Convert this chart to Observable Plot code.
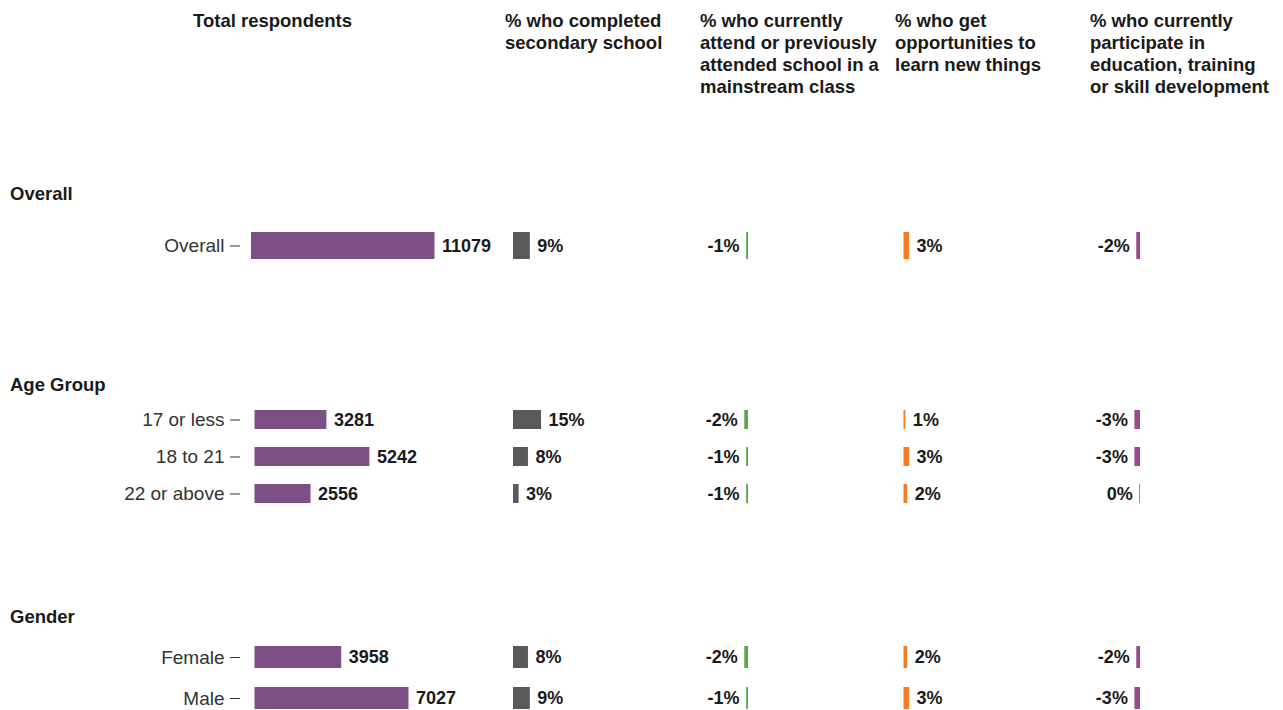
<!DOCTYPE html>
<html>
<head>
<meta charset="utf-8">
<script src="https://cdn.jsdelivr.net/npm/d3@7"></script>
<script src="https://cdn.jsdelivr.net/npm/@observablehq/plot@0.6"></script>
<style>
  html, body { margin: 0; padding: 0; background: #fff; }
  #root { position: relative; width: 1283px; height: 710px; overflow: hidden;
          font-family: "Liberation Sans", Arial, sans-serif; color: #1a1a1a; }
  .hdr { position: absolute; font-weight: bold; font-size: 18.5px; line-height: 22px; white-space: nowrap; }
  .grp { position: absolute; left: 10px; font-weight: bold; font-size: 18.5px; line-height: 22px; }
  .panel { position: absolute; }
  .panel svg { overflow: visible; }
</style>
</head>
<body>
<div id="root"></div>
<script>
// ---------------- data ----------------
const groups = ["Overall", "Age Group", "Gender"];
const categories = ["Overall", "17 or less", "18 to 21", "22 or above", "Female", "Male"];
const categoryGroup = ["Overall", "Age Group", "Age Group", "Age Group", "Gender", "Gender"];
const totalRespondents = [11079, 3281, 5242, 2556, 3958, 7027];
const completedSecondary = [9, 15, 8, 3, 8, 9];
const mainstreamClass = [-1, -2, -1, -1, -2, -1];
const learnNewThings = [3, 1, 3, 2, 2, 3];
const educationTraining = [-2, -3, -3, -0.4, -2, -3];
const columnTitles = [
  ["Total respondents"],
  ["% who completed", "secondary school"],
  ["% who currently", "attend or previously", "attended school in a", "mainstream class"],
  ["% who get", "opportunities to", "learn new things"],
  ["% who currently", "participate in", "education, training", "or skill development"]
];

// ---------------- layout ----------------
const font = "'Liberation Sans', Arial, sans-serif";
const headerX = [193, 505, 700, 895, 1090];
const headerTop = 10;
const groupLabelTop = {"Overall": 183, "Age Group": 374, "Gender": 606};
const groupLayout = {
  "Overall":   {top: 200, height: 80,  yRange: [31.5, 58.5],   padInner: 0,     countMax: 11079, countRange: [251, 434.5]},
  "Age Group": {top: 395, height: 120, yRange: [14.95, 109.25], padInner: 0.479, countMax: 7027,  countRange: [254.5, 408.5]},
  "Gender":    {top: 630, height: 80,  yRange: [15.5, 79],     padInner: 0.47,  countMax: 7027,  countRange: [254.5, 408.5]}
};
const pxPerPct = 1.87;
const pctColumns = [
  {values: completedSecondary, color: "#595959", zero: 513,   left: 500,  width: 195},
  {values: mainstreamClass,    color: "#5aa84e", zero: 748,   left: 695,  width: 195},
  {values: learnNewThings,     color: "#f57c22", zero: 903.5, left: 890,  width: 195},
  {values: educationTraining,  color: "#9a4a8f", zero: 1140,  left: 1085, width: 198}
];
const countColor = "#7e4e87";
const fmtPct = v => `${Math.round(v)}%`;

const root = document.getElementById("root");

// headers
columnTitles.forEach((lines, i) => {
  const d = document.createElement("div");
  d.className = "hdr";
  d.style.left = headerX[i] + "px";
  d.style.top = headerTop + "px";
  d.innerHTML = lines.map(l => l.replace(/&/g, "&amp;")).join("<br>");
  root.appendChild(d);
});

function place(node, left, top) {
  const wrap = document.createElement("div");
  wrap.className = "panel";
  wrap.style.left = left + "px";
  wrap.style.top = top + "px";
  wrap.appendChild(node);
  root.appendChild(wrap);
}

groups.forEach(g => {
  const L = groupLayout[g];
  const lab = document.createElement("div");
  lab.className = "grp";
  lab.style.top = groupLabelTop[g] + "px";
  lab.textContent = g;
  root.appendChild(lab);

  const idx = categories.map((c, i) => i).filter(i => categoryGroup[i] === g);
  const cats = idx.map(i => categories[i]);
  const yOpts = {domain: cats, range: L.yRange, paddingInner: L.padInner, paddingOuter: 0, align: 0.5, label: null};

  // column 1: total respondents
  const countData = idx.map(i => ({label: categories[i], value: totalRespondents[i]}));
  const p1 = Plot.plot({
    width: 500, height: L.height,
    marginLeft: 240, marginRight: 0, marginTop: 0, marginBottom: 0,
    style: {background: "transparent", fontFamily: font, fontSize: "19px", color: "#333", overflow: "visible"},
    x: {domain: [0, L.countMax], range: L.countRange, axis: null},
    y: {...yOpts, tickSize: 10, tickPadding: 6},
    marks: [
      Plot.barX(countData, {x: "value", y: "label", fill: countColor}),
      Plot.text(countData, {x: "value", y: "label", text: d => String(d.value), textAnchor: "start", dx: 7,
        fontSize: 18, fontWeight: "bold", fill: "#1a1a1a"})
    ]
  });
  place(p1, 0, L.top);

  // percentage columns
  pctColumns.forEach(col => {
    const data = idx.map(i => ({label: categories[i], value: col.values[i]}));
    const z = col.zero - col.left;
    const p = Plot.plot({
      width: col.width, height: L.height,
      marginLeft: 0, marginRight: 0, marginTop: 0, marginBottom: 0,
      style: {background: "transparent", fontFamily: font, fontSize: "18px", color: "#1a1a1a", overflow: "visible"},
      x: {domain: [-10, 10], range: [z - 10 * pxPerPct, z + 10 * pxPerPct], axis: null},
      y: {...yOpts, axis: null},
      marks: [
        Plot.barX(data, {x: "value", y: "label", fill: col.color}),
        Plot.text(data.filter(d => d.value >= 0), {x: "value", y: "label", text: d => fmtPct(d.value),
          textAnchor: "start", dx: 7, fontSize: 18, fontWeight: "bold", fill: "#1a1a1a"}),
        Plot.text(data.filter(d => d.value < 0), {x: "value", y: "label", text: d => fmtPct(d.value),
          textAnchor: "end", dx: -7, fontSize: 18, fontWeight: "bold", fill: "#1a1a1a"})
      ]
    });
    place(p, col.left, L.top);
  });
});
</script>
</body>
</html>
